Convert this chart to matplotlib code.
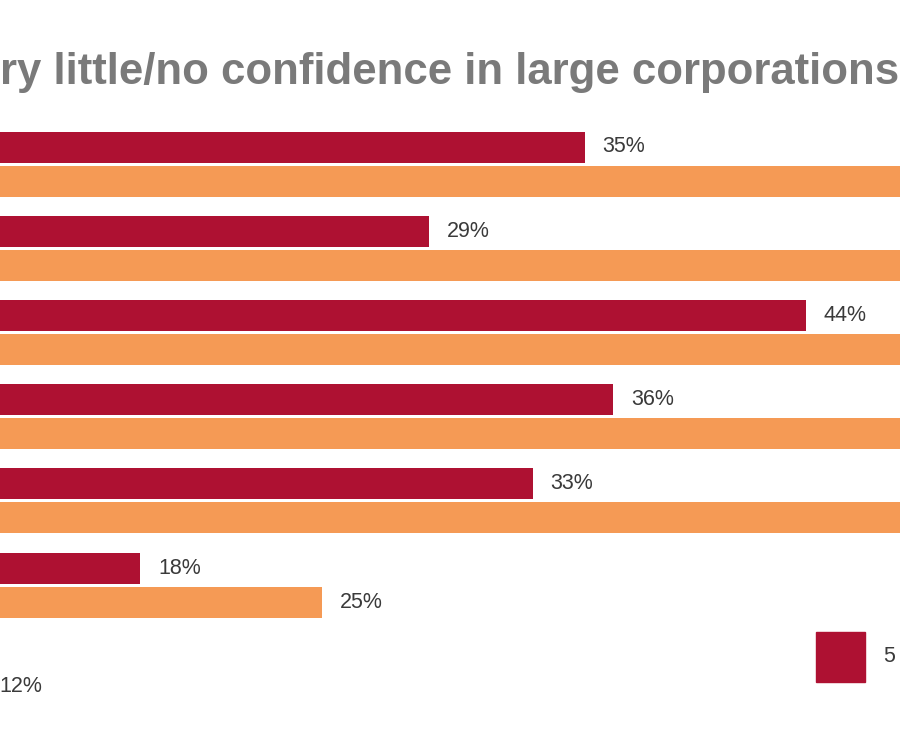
import matplotlib
matplotlib.use("Agg")
import matplotlib.pyplot as plt
from matplotlib.patches import Rectangle

# values (percent); bars start off-canvas on the left
groups = ["g1", "g2", "g3", "g4", "g5", "g6", "g7"]
red_vals = [35.1, 29.1, 43.6, 36.2, 33.1, 18.0, 8.0]
orange_vals = [55, 52, 58, 54, 53, 25.0, 11.9]
title = "ry little/no confidence in large corporations"
legend_label = "5"

RED = "#ae1132"
ORANGE = "#f59a55"
TXT = "#3a3a3a"

W, H = 900, 750
PX_PER_PCT = 26.0
ZERO_X = -328          # pixel where 0% sits (off the left edge)
GROUP_PX = 84.2
FIRST_CENTER = 164     # pixel of first group's centre from the top
XMAX = 65

plt.rcParams["font.family"] = ["Liberation Sans", "DejaVu Sans"]

fig = plt.figure(figsize=(W / 100, H / 100), dpi=100)
ax = fig.add_axes([ZERO_X / W, 0, XMAX * PX_PER_PCT / W, 1])
ax.set_xlim(0, XMAX)
ymin = -FIRST_CENTER / GROUP_PX
ax.set_ylim(ymin + H / GROUP_PX, ymin)
ax.axis("off")

bh = 31 / GROUP_PX
off = 17 / GROUP_PX
ys = list(range(len(groups)))
ax.barh([y - off for y in ys], red_vals, height=bh, color=RED)
ax.barh([y + off for y in ys], orange_vals, height=bh, color=ORANGE)

pad = 18 / PX_PER_PCT
vis_lo = -ZERO_X / PX_PER_PCT - 1          # roughly the left canvas edge in %
vis_hi = (W - ZERO_X) / PX_PER_PCT - 1.8   # leave room for the label
for y, r, o in zip(ys, red_vals, orange_vals):
    for v, yy in ((r, y - off), (o, y + off)):
        if vis_lo <= v + pad <= vis_hi:
            ax.text(v + pad, yy, f"{v:.0f}%", va="center", ha="left",
                    fontsize=15.5, color=TXT)

fig.text(0, 1 - 84 / H, title, ha="left", va="baseline",
         fontsize=31.5, fontweight="bold", color="#7a7a7a")

fig.patches.append(Rectangle((816 / W, 1 - 682 / H), 49 / W, 50 / H,
                             transform=fig.transFigure, color=RED))
fig.text(883 / W, 1 - 657 / H, legend_label, ha="left", va="center",
         fontsize=15.5, color=TXT)

fig.savefig("out.png", dpi=100)
